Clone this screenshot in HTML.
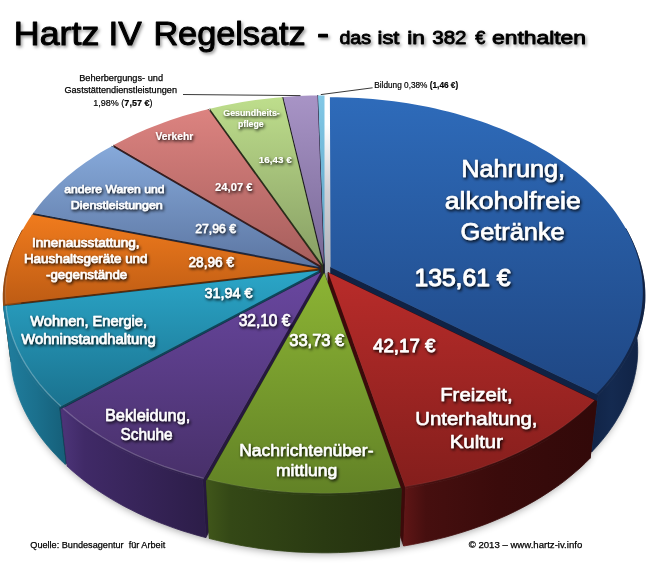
<!DOCTYPE html>
<html lang="de"><head><meta charset="utf-8"><title>Hartz IV Regelsatz</title>
<style>html,body{margin:0;padding:0;background:#fff;}body{width:650px;height:564px;overflow:hidden;font-family:"Liberation Sans",sans-serif;}svg{display:block;}</style>
</head><body>
<svg width="650" height="564" viewBox="0 0 650 564" font-family="'Liberation Sans', sans-serif">
<defs>
<filter id="blur6" x="-20%" y="-20%" width="140%" height="140%"><feGaussianBlur stdDeviation="4.5"/></filter>
<filter id="ts" filterUnits="userSpaceOnUse" x="0" y="0" width="650" height="70"><feDropShadow dx="1.6" dy="2" stdDeviation="1.5" flood-color="#000" flood-opacity="0.38"/></filter>
<filter id="ls" filterUnits="userSpaceOnUse" x="0" y="90" width="650" height="420"><feDropShadow dx="1.2" dy="1.6" stdDeviation="1.4" flood-color="#000" flood-opacity="1"/></filter>
<linearGradient id="gapg" x1="0" y1="0" x2="0" y2="1"><stop offset="0" stop-color="#ffffff"/><stop offset="0.18" stop-color="#ffffff"/><stop offset="0.55" stop-color="#cfd0d5"/><stop offset="1" stop-color="#aeb1b9"/></linearGradient>
<linearGradient id="w_bildung" gradientUnits="userSpaceOnUse" x1="318" y1="0" x2="325" y2="0"><stop offset="0" stop-color="#427c98"/><stop offset="1" stop-color="#305e74"/></linearGradient>
<linearGradient id="t_bildung" gradientUnits="userSpaceOnUse" x1="0" y1="95" x2="0" y2="265"><stop offset="0.00" stop-color="#82c8e6"/><stop offset="1.00" stop-color="#5aa0c3"/></linearGradient>
<linearGradient id="w_beherb" gradientUnits="userSpaceOnUse" x1="283" y1="0" x2="318" y2="0"><stop offset="0" stop-color="#5c4e76"/><stop offset="1" stop-color="#443858"/></linearGradient>
<linearGradient id="t_beherb" gradientUnits="userSpaceOnUse" x1="0" y1="95" x2="0" y2="265"><stop offset="0.00" stop-color="#a894c6"/><stop offset="1.00" stop-color="#786896"/></linearGradient>
<linearGradient id="w_gesund" gradientUnits="userSpaceOnUse" x1="210" y1="0" x2="283" y2="0"><stop offset="0" stop-color="#687c4a"/><stop offset="1" stop-color="#4c5c36"/></linearGradient>
<linearGradient id="t_gesund" gradientUnits="userSpaceOnUse" x1="0" y1="97" x2="0" y2="265"><stop offset="0.00" stop-color="#bede8c"/><stop offset="1.00" stop-color="#879e64"/></linearGradient>
<linearGradient id="w_verkehr" gradientUnits="userSpaceOnUse" x1="114" y1="0" x2="211" y2="0"><stop offset="0" stop-color="#824644"/><stop offset="1" stop-color="#603232"/></linearGradient>
<linearGradient id="t_verkehr" gradientUnits="userSpaceOnUse" x1="0" y1="109" x2="0" y2="266"><stop offset="0.00" stop-color="#dc8380"/><stop offset="1.00" stop-color="#a65e5c"/></linearGradient>
<linearGradient id="w_andere" gradientUnits="userSpaceOnUse" x1="33" y1="0" x2="116" y2="0"><stop offset="0" stop-color="#465c82"/><stop offset="1" stop-color="#324260"/></linearGradient>
<linearGradient id="t_andere" gradientUnits="userSpaceOnUse" x1="0" y1="146" x2="0" y2="267"><stop offset="0.00" stop-color="#86a9da"/><stop offset="1.00" stop-color="#5c76a2"/></linearGradient>
<linearGradient id="w_nahrung" gradientUnits="userSpaceOnUse" x1="330" y1="0" x2="643" y2="0"><stop offset="0" stop-color="#0e1e3e"/><stop offset="0.78" stop-color="#0e1e3e"/><stop offset="0.9" stop-color="#142a50"/><stop offset="1" stop-color="#102244"/></linearGradient>
<linearGradient id="t_nahrung" gradientUnits="userSpaceOnUse" x1="0" y1="97" x2="0" y2="394"><stop offset="0.00" stop-color="#2e6bba"/><stop offset="1.00" stop-color="#1f4784"/></linearGradient>
<linearGradient id="w_innen" gradientUnits="userSpaceOnUse" x1="5" y1="0" x2="38" y2="0"><stop offset="0" stop-color="#96480e"/><stop offset="1" stop-color="#6e340a"/></linearGradient>
<linearGradient id="t_innen" gradientUnits="userSpaceOnUse" x1="0" y1="215" x2="0" y2="304"><stop offset="0.00" stop-color="#f07b1d"/><stop offset="1.00" stop-color="#be5c14"/></linearGradient>
<linearGradient id="w_wohnen" gradientUnits="userSpaceOnUse" x1="6" y1="0" x2="67" y2="0"><stop offset="0" stop-color="#207e9e"/><stop offset="0.5" stop-color="#1b708d"/><stop offset="1" stop-color="#155e78"/></linearGradient>
<linearGradient id="t_wohnen" gradientUnits="userSpaceOnUse" x1="0" y1="271" x2="0" y2="406"><stop offset="0.00" stop-color="#2ba6c8"/><stop offset="1.00" stop-color="#1a728f"/></linearGradient>
<linearGradient id="w_bekl" gradientUnits="userSpaceOnUse" x1="63" y1="0" x2="207" y2="0"><stop offset="0" stop-color="#4c3478"/><stop offset="0.15" stop-color="#402a67"/><stop offset="1" stop-color="#2c1d48"/></linearGradient>
<linearGradient id="t_bekl" gradientUnits="userSpaceOnUse" x1="0" y1="272" x2="0" y2="478"><stop offset="0.00" stop-color="#6947a0"/><stop offset="1.00" stop-color="#48306a"/></linearGradient>
<linearGradient id="w_freizeit" gradientUnits="userSpaceOnUse" x1="403" y1="0" x2="594" y2="0"><stop offset="0" stop-color="#601616"/><stop offset="0.12" stop-color="#460f0f"/><stop offset="0.5" stop-color="#3a0b0b"/><stop offset="1" stop-color="#320909"/></linearGradient>
<linearGradient id="t_freizeit" gradientUnits="userSpaceOnUse" x1="0" y1="272" x2="0" y2="487"><stop offset="0.00" stop-color="#b92c2a"/><stop offset="1.00" stop-color="#841e1c"/></linearGradient>
<linearGradient id="w_nachr" gradientUnits="userSpaceOnUse" x1="207" y1="0" x2="401" y2="0"><stop offset="0" stop-color="#40561a"/><stop offset="0.12" stop-color="#344816"/><stop offset="0.6" stop-color="#2a3a12"/><stop offset="1" stop-color="#24300f"/></linearGradient>
<linearGradient id="t_nachr" gradientUnits="userSpaceOnUse" x1="0" y1="273" x2="0" y2="493"><stop offset="0.00" stop-color="#8cb434"/><stop offset="1.00" stop-color="#628226"/></linearGradient>
</defs>
<rect width="650" height="564" fill="#fff"/>
<g id="pie">
<path d="M329.8,149.9 L336.8,150.0 L343.8,150.2 L350.8,150.4 L357.8,150.8 L364.7,151.2 L371.7,151.8 L378.6,152.5 L385.6,153.3 L392.4,154.1 L399.3,155.1 L406.1,156.2 L412.9,157.4 L419.7,158.7 L426.4,160.0 L433.1,161.5 L439.7,163.1 L446.3,164.8 L452.8,166.6 L459.3,168.5 L465.7,170.5 L472.0,172.6 L478.3,174.7 L484.5,177.0 L490.6,179.4 L496.6,181.9 L502.6,184.4 L508.5,187.1 L514.3,189.9 L520.0,192.7 L525.6,195.6 L531.1,198.7 L536.5,201.8 L541.8,205.0 L547.0,208.3 L552.1,211.7 L557.0,215.2 L561.9,218.7 L566.6,222.3 L571.2,226.1 L575.7,229.9 L580.0,233.7 L584.2,237.7 L588.3,241.7 L592.2,245.8 L596.0,250.0 L599.6,254.2 L603.0,258.5 L606.4,262.9 L609.5,267.3 L612.5,271.8 L615.3,276.4 L618.0,281.0 L620.4,285.7 L622.7,290.4 L624.9,295.2 L626.8,300.0 L628.6,304.9 L630.1,309.8 L631.5,314.8 L632.7,319.7 L633.7,324.8 L634.5,329.8 L635.1,334.9 L635.4,340.0 L635.6,345.1 L635.6,350.3 L635.4,355.4 L634.9,360.6 L634.2,365.7 L633.4,370.9 L632.3,376.1 L631.0,381.3 L629.4,386.4 L627.7,391.6 L625.7,396.7 L623.5,401.8 L621.1,406.9 L618.5,411.9 L615.6,417.0 L612.5,422.0 L609.3,426.9 L605.7,431.8 L602.0,436.6 L598.1,441.4 L593.9,446.2 L589.5,450.8 L587.9,457.1 L583.3,461.7 L578.6,466.2 L573.6,470.6 L568.4,475.0 L563.0,479.3 L557.4,483.5 L551.7,487.6 L545.7,491.6 L539.6,495.5 L533.2,499.3 L526.7,502.9 L520.0,506.5 L513.2,510.0 L506.2,513.3 L499.0,516.5 L491.7,519.6 L484.2,522.5 L476.6,525.3 L468.9,528.0 L461.0,530.5 L453.0,532.9 L444.9,535.2 L436.7,537.3 L428.4,539.2 L420.0,541.0 L411.6,542.6 L403.0,544.1 L398.6,544.9 L390.2,546.2 L381.6,547.3 L373.0,548.3 L364.4,549.1 L355.7,549.8 L347.0,550.3 L338.3,550.6 L329.6,550.8 L320.9,550.8 L312.1,550.7 L303.4,550.4 L294.7,549.9 L286.0,549.3 L277.4,548.5 L268.8,547.6 L260.2,546.5 L251.8,545.2 L243.3,543.8 L235.0,542.3 L226.7,540.6 L218.5,538.7 L210.4,536.7 L206.8,535.8 L198.8,533.6 L190.9,531.3 L183.2,528.9 L175.6,526.4 L168.1,523.7 L160.7,520.8 L153.5,517.9 L146.4,514.8 L139.5,511.6 L132.7,508.3 L126.0,504.9 L119.6,501.3 L113.3,497.7 L107.1,493.9 L101.2,490.1 L95.4,486.1 L89.8,482.1 L84.4,478.0 L79.2,473.8 L74.2,469.5 L69.4,465.1 L67.3,463.2 L62.7,458.8 L58.3,454.3 L54.1,449.7 L50.1,445.2 L46.3,440.5 L42.7,435.8 L39.3,431.1 L36.1,426.3 L33.1,421.4 L30.3,416.6 L27.7,411.7 L25.4,406.8 L23.2,401.8 L21.3,396.8 L19.5,391.9 L18.0,386.9 L16.6,381.9 L15.5,376.8 L14.6,371.8 L13.8,366.8 L13.3,361.8 L13.1,359.7 L12.7,354.7 L12.6,349.7 L12.6,344.7 L12.9,339.8 L13.3,334.8 L14.0,329.9 L14.8,325.1 L15.8,320.2 L17.0,315.4 L18.4,310.6 L19.9,305.8 L21.6,301.1 L23.5,296.5 L25.6,291.8 L27.8,287.3 L30.2,282.7 L32.8,278.2 L35.5,273.8 L38.4,269.5 L39.5,267.7 L42.6,263.4 L45.8,259.0 L49.2,254.8 L52.8,250.6 L56.4,246.5 L60.3,242.4 L64.2,238.4 L68.3,234.5 L72.6,230.7 L76.9,226.9 L81.4,223.2 L86.0,219.6 L90.8,216.1 L95.6,212.7 L100.6,209.3 L105.7,206.0 L110.8,202.8 L116.1,199.7 L118.0,198.6 L123.2,195.7 L128.5,192.9 L133.9,190.1 L139.3,187.4 L144.9,184.8 L150.5,182.3 L156.2,179.9 L162.0,177.6 L167.9,175.3 L173.8,173.2 L179.7,171.1 L185.8,169.1 L191.9,167.2 L198.0,165.4 L204.2,163.7 L210.5,162.1 L212.3,161.6 L218.5,160.1 L224.8,158.7 L231.2,157.3 L237.6,156.1 L244.0,154.9 L250.4,153.9 L256.9,152.9 L263.4,152.0 L269.9,151.2 L276.5,150.5 L283.0,149.9 L284.2,149.8 L290.8,149.3 L297.5,148.9 L304.2,148.5 L310.9,148.3 L317.6,148.2 L318.1,148.1 L321.3,148.1 L324.5,148.1Z" fill="#000" opacity="0.40" filter="url(#blur6)" transform="translate(0,3)"/>
<rect x="320.6" y="92" width="12" height="181.0" fill="url(#gapg)"/>
<path d="M324.5,264.9 L317.9,95.4 L318.1,148.1 L324.5,320.2Z" fill="#1e3c5a" stroke="#1e3c5a" stroke-width="0.7" stroke-linejoin="round"/>
<path d="M324.5,264.9 L317.9,95.4 L321.2,95.4 L324.5,95.4Z" fill="url(#t_bildung)"/>
<path d="M324.0,264.9 L283.3,97.1 L284.2,149.8 L324.0,320.3Z" fill="#1c1628" stroke="#1c1628" stroke-width="0.7" stroke-linejoin="round"/>
<path d="M324.0,264.9 L317.5,95.5 L317.6,148.2 L324.0,320.3Z" fill="#1c1628" stroke="#1c1628" stroke-width="0.7" stroke-linejoin="round"/>
<path d="M324.0,264.9 L283.3,97.1 L290.1,96.6 L297.0,96.1 L303.8,95.8 L310.6,95.6 L317.5,95.5Z" fill="url(#t_beherb)"/>
<path d="M322.7,265.1 L210.0,108.7 L212.3,161.6 L322.8,320.4Z" fill="#28321a" stroke="#28321a" stroke-width="0.7" stroke-linejoin="round"/>
<path d="M322.7,265.1 L282.2,97.2 L283.0,149.9 L322.8,320.4Z" fill="#28321a" stroke="#28321a" stroke-width="0.7" stroke-linejoin="round"/>
<path d="M322.7,265.1 L210.0,108.7 L216.4,107.2 L222.8,105.8 L229.3,104.5 L235.8,103.2 L242.3,102.1 L248.9,101.1 L255.5,100.1 L262.1,99.2 L268.8,98.5 L275.5,97.8 L282.2,97.2Z" fill="url(#t_gesund)"/>
<path d="M320.8,265.7 L113.7,145.1 L118.0,198.6 L320.8,321.0Z" fill="#3c1c1c" stroke="#3c1c1c" stroke-width="0.7" stroke-linejoin="round"/>
<path d="M320.8,265.7 L208.2,109.2 L210.5,162.1 L320.8,321.0Z" fill="#3c1c1c" stroke="#3c1c1c" stroke-width="0.7" stroke-linejoin="round"/>
<path d="M320.8,265.7 L113.7,145.1 L119.0,142.2 L124.4,139.4 L129.9,136.7 L135.5,134.0 L141.2,131.5 L146.9,129.0 L152.7,126.7 L158.7,124.4 L164.6,122.2 L170.7,120.0 L176.8,118.0 L182.9,116.1 L189.2,114.2 L195.5,112.4 L201.8,110.8 L208.2,109.2Z" fill="url(#t_verkehr)"/>
<path d="M318.9,266.9 L33.3,213.1 L39.5,267.7 L319.0,322.3Z" fill="#1e283e" stroke="#1e283e" stroke-width="0.7" stroke-linejoin="round"/>
<path d="M318.9,266.9 L111.8,146.2 L116.1,199.7 L319.0,322.3Z" fill="#1e283e" stroke="#1e283e" stroke-width="0.7" stroke-linejoin="round"/>
<path d="M318.9,266.9 L33.3,213.1 L36.4,208.8 L39.7,204.5 L43.2,200.3 L46.9,196.2 L50.6,192.2 L54.6,188.2 L58.6,184.2 L62.8,180.4 L67.2,176.6 L71.6,172.9 L76.2,169.3 L81.0,165.7 L85.8,162.3 L90.8,158.9 L95.9,155.6 L101.0,152.3 L106.3,149.2 L111.8,146.2Z" fill="url(#t_andere)"/>
<path d="M330.6,267.2 L598.2,395.1 L591.7,451.9 L330.4,322.6Z" fill="#102244" stroke="#102244" stroke-width="0.7" stroke-linejoin="round"/>
<path d="M625.7,228.5 L628.2,233.0 L630.5,237.6 L632.7,242.3 L634.7,247.0 L636.6,251.7 L638.2,256.5 L639.8,261.4 L641.1,266.2 L642.3,271.2 L643.2,276.1 L644.0,281.1 L644.5,286.1 L644.8,291.1 L644.9,296.2 L644.8,301.3 L644.4,306.4 L643.7,311.4 L642.8,316.5 L641.7,321.6 L640.3,326.7 L638.8,331.7 L637.0,336.8 L635.0,341.8 L632.7,346.9 L630.3,351.9 L627.6,356.8 L624.7,361.8 L621.6,366.7 L618.2,371.5 L614.7,376.4 L610.9,381.1 L606.9,385.8 L602.7,390.5 L598.2,395.1 L591.7,451.9 L596.0,447.3 L600.1,442.6 L604.1,437.8 L607.8,433.0 L611.3,428.1 L614.6,423.2 L617.6,418.2 L620.5,413.3 L623.1,408.2 L625.5,403.2 L627.7,398.1 L629.7,393.0 L631.5,387.9 L633.1,382.8 L634.4,377.6 L635.5,372.5 L636.4,367.4 L637.1,362.2 L637.5,357.1 L637.7,351.9 L637.6,346.8 L637.3,341.7 L636.8,336.6 L636.1,331.6 L635.2,326.6 L634.1,321.6 L632.8,316.7 L631.3,311.8 L629.7,306.9 L627.9,302.1 L625.9,297.3 L623.8,292.6 L621.6,287.9 L619.2,283.3Z" fill="url(#w_nahrung)" stroke="url(#w_nahrung)" stroke-width="0.8" stroke-linejoin="round"/>
<path d="M624.0,228.7 L626.4,233.2 L628.6,237.8 L630.7,242.5 L632.6,247.1 L634.3,251.9 L635.8,256.6 L637.1,261.4 L638.2,266.3 L639.1,271.1 L639.9,276.0 L640.4,280.9 L640.7,285.9 L640.9,290.8 L640.8,295.8 L640.5,300.8 L640.0,305.8 L639.3,310.8 L638.4,315.8 L637.3,320.8 L635.9,325.8 L634.4,330.8 L632.6,335.8 L630.6,340.8 L628.4,345.7 L626.0,350.6 L623.3,355.5 L620.4,360.4 L617.4,365.2 L614.0,370.0 L610.5,374.8 L606.8,379.4 L602.8,384.1 L598.7,388.7 L594.3,393.2 L598.2,395.1 L602.7,390.5 L606.9,385.8 L610.9,381.1 L614.7,376.4 L618.2,371.5 L621.6,366.7 L624.7,361.8 L627.6,356.8 L630.3,351.9 L632.7,346.9 L635.0,341.8 L637.0,336.8 L638.8,331.7 L640.3,326.7 L641.7,321.6 L642.8,316.5 L643.7,311.4 L644.4,306.4 L644.8,301.3 L644.9,296.2 L644.8,291.1 L644.5,286.1 L644.0,281.1 L643.2,276.1 L642.3,271.2 L641.1,266.2 L639.8,261.4 L638.2,256.5 L636.6,251.7 L634.7,247.0 L632.7,242.3 L630.5,237.6 L628.2,233.0 L625.7,228.5Z" fill="url(#w_nahrung)" stroke="url(#w_nahrung)" stroke-width="0.5" stroke-linejoin="round"/>
<path d="M330.6,267.2 L329.9,97.2 L337.0,97.3 L344.2,97.4 L351.3,97.7 L358.4,98.0 L365.6,98.5 L372.7,99.0 L379.7,99.7 L386.8,100.5 L393.8,101.3 L400.8,102.3 L407.8,103.3 L414.7,104.5 L421.6,105.8 L428.5,107.1 L435.3,108.6 L442.1,110.2 L448.8,111.8 L455.4,113.6 L462.0,115.4 L468.5,117.4 L475.0,119.4 L481.4,121.6 L487.8,123.8 L494.0,126.2 L500.2,128.6 L506.3,131.1 L512.3,133.7 L518.2,136.4 L524.0,139.2 L529.8,142.1 L535.4,145.1 L540.9,148.2 L546.4,151.3 L551.7,154.6 L556.9,157.9 L561.9,161.3 L566.9,164.8 L571.7,168.4 L576.5,172.1 L581.0,175.8 L585.5,179.6 L589.8,183.5 L594.0,187.5 L598.0,191.5 L601.8,195.6 L605.6,199.8 L609.1,204.0 L612.5,208.3 L615.8,212.7 L618.8,217.2 L621.7,221.7 L624.5,226.2 L627.0,230.8 L629.4,235.5 L631.6,240.2 L633.6,244.9 L635.4,249.8 L637.0,254.6 L638.5,259.5 L639.7,264.4 L640.7,269.4 L641.6,274.3 L642.2,279.4 L642.6,284.4 L642.8,289.5 L642.8,294.5 L642.6,299.6 L642.1,304.7 L641.5,309.8 L640.6,315.0 L639.5,320.1 L638.2,325.2 L636.7,330.3 L634.9,335.4 L632.9,340.4 L630.7,345.5 L628.2,350.5 L625.5,355.5 L622.6,360.5 L619.5,365.4 L616.2,370.3 L612.6,375.2 L608.8,380.0 L604.8,384.7 L600.5,389.4 L596.0,394.0Z" fill="url(#t_nahrung)"/>
<path d="M318.0,268.8 L3.5,304.1 L10.8,360.0 L318.1,324.2Z" fill="#5a2a08" stroke="#5a2a08" stroke-width="0.7" stroke-linejoin="round"/>
<path d="M318.0,268.8 L32.1,214.8 L38.4,269.5 L318.1,324.2Z" fill="#5a2a08" stroke="#5a2a08" stroke-width="0.7" stroke-linejoin="round"/>
<path d="M3.5,304.1 L3.3,299.0 L3.3,293.8 L3.6,288.7 L4.1,283.6 L4.8,278.5 L5.8,273.4 L6.9,268.4 L8.3,263.5 L9.8,258.5 L11.5,253.7 L13.4,248.8 L15.5,244.0 L17.7,239.3 L20.0,234.6 L22.5,229.9 L29.1,284.8 L26.7,289.5 L24.4,294.3 L22.2,299.1 L20.3,303.9 L18.4,308.9 L16.8,313.8 L15.3,318.8 L14.0,323.8 L12.9,328.9 L12.0,334.0 L11.3,339.1 L10.8,344.3 L10.6,349.5 L10.6,354.7 L10.8,360.0Z" fill="url(#w_innen)" stroke="url(#w_innen)" stroke-width="0.8" stroke-linejoin="round"/>
<path d="M7.8,303.6 L7.4,298.6 L7.3,293.5 L7.4,288.4 L7.7,283.4 L8.2,278.4 L9.0,273.4 L9.9,268.4 L11.0,263.5 L12.3,258.6 L13.8,253.8 L15.6,249.0 L17.5,244.2 L19.6,239.5 L21.8,234.8 L24.3,230.2 L22.5,229.9 L20.0,234.6 L17.7,239.3 L15.5,244.0 L13.4,248.8 L11.5,253.7 L9.8,258.5 L8.3,263.5 L6.9,268.4 L5.8,273.4 L4.8,278.5 L4.1,283.6 L3.6,288.7 L3.3,293.8 L3.3,299.0 L3.5,304.1Z" fill="url(#w_innen)" stroke="url(#w_innen)" stroke-width="0.5" stroke-linejoin="round"/>
<path d="M318.0,268.8 L5.8,303.9 L5.5,298.9 L5.4,294.0 L5.4,289.1 L5.7,284.2 L6.2,279.3 L6.9,274.5 L7.7,269.6 L8.8,264.9 L10.0,260.1 L11.4,255.4 L13.0,250.7 L14.8,246.0 L16.8,241.4 L18.9,236.9 L21.2,232.4 L23.7,227.9 L26.3,223.5 L29.1,219.1 L32.1,214.8Z" fill="url(#t_innen)"/>
<path d="M5.8,303.9 L5.5,299.1 L5.4,294.3 L5.4,289.6 L5.7,284.9 L6.1,280.2 L6.7,275.5" fill="none" stroke="#fff" stroke-opacity="0.15" stroke-width="1.3"/>
<path d="M318.6,270.8 L58.7,407.4 L65.2,464.3 L318.7,326.2Z" fill="#0e465a" stroke="#0e465a" stroke-width="0.7" stroke-linejoin="round"/>
<path d="M318.6,270.8 L3.7,306.2 L11.0,362.1 L318.7,326.2Z" fill="#0e465a" stroke="#0e465a" stroke-width="0.7" stroke-linejoin="round"/>
<path d="M58.7,407.4 L54.0,403.0 L49.5,398.5 L45.2,394.0 L41.0,389.4 L37.1,384.7 L33.4,380.0 L30.0,375.3 L26.7,370.5 L23.6,365.7 L20.8,360.8 L18.2,356.0 L15.8,351.0 L13.6,346.1 L11.6,341.2 L9.8,336.2 L8.2,331.2 L6.9,326.2 L5.8,321.2 L4.8,316.2 L4.1,311.2 L3.7,306.2 L11.0,362.1 L11.5,367.1 L12.2,372.2 L13.1,377.2 L14.2,382.3 L15.6,387.3 L17.1,392.4 L18.9,397.4 L20.8,402.4 L23.0,407.4 L25.4,412.4 L28.0,417.3 L30.8,422.2 L33.8,427.1 L37.0,431.9 L40.4,436.7 L44.0,441.4 L47.8,446.1 L51.9,450.8 L56.1,455.3 L60.5,459.9 L65.2,464.3Z" fill="url(#w_wohnen)" stroke="url(#w_wohnen)" stroke-width="0.8" stroke-linejoin="round"/>
<path d="M62.6,405.4 L57.9,401.0 L53.5,396.6 L49.2,392.2 L45.1,387.6 L41.3,383.1 L37.6,378.4 L34.2,373.8 L31.0,369.1 L27.9,364.3 L25.1,359.5 L22.5,354.7 L20.1,349.9 L17.9,345.0 L16.0,340.1 L14.2,335.2 L12.7,330.3 L11.3,325.4 L10.2,320.5 L9.2,315.6 L8.5,310.6 L8.0,305.7 L3.7,306.2 L4.1,311.2 L4.8,316.2 L5.8,321.2 L6.9,326.2 L8.2,331.2 L9.8,336.2 L11.6,341.2 L13.6,346.1 L15.8,351.0 L18.2,356.0 L20.8,360.8 L23.6,365.7 L26.7,370.5 L30.0,375.3 L33.4,380.0 L37.1,384.7 L41.0,389.4 L45.2,394.0 L49.5,398.5 L54.0,403.0 L58.7,407.4Z" fill="url(#w_wohnen)" stroke="url(#w_wohnen)" stroke-width="0.5" stroke-linejoin="round"/>
<path d="M318.6,270.8 L60.9,406.3 L56.2,401.9 L51.7,397.5 L47.4,393.0 L43.3,388.4 L39.4,383.8 L35.8,379.2 L32.3,374.5 L29.1,369.7 L26.0,364.9 L23.2,360.1 L20.6,355.3 L18.2,350.4 L16.0,345.5 L14.0,340.6 L12.3,335.7 L10.7,330.7 L9.3,325.8 L8.2,320.8 L7.3,315.9 L6.5,310.9 L6.0,306.0Z" fill="url(#t_wohnen)"/>
<path d="M60.9,406.3 L56.2,401.9 L51.7,397.5 L47.4,393.0 L43.3,388.4 L39.4,383.8 L35.8,379.2 L32.3,374.5 L29.1,369.7 L26.0,364.9 L23.2,360.1 L20.6,355.3 L18.2,350.4 L16.0,345.5 L14.0,340.6 L12.3,335.7 L10.7,330.7 L9.3,325.8 L8.2,320.8 L7.3,315.9 L6.5,310.9 L6.0,306.0" fill="none" stroke="#fff" stroke-opacity="0.28" stroke-width="1.3"/>
<path d="M320.8,272.4 L202.7,480.1 L205.8,537.6 L320.9,327.8Z" fill="#26183e" stroke="#26183e" stroke-width="0.7" stroke-linejoin="round"/>
<path d="M320.8,272.4 L60.9,409.3 L67.3,466.3 L320.9,327.8Z" fill="#26183e" stroke="#26183e" stroke-width="0.7" stroke-linejoin="round"/>
<path d="M202.7,480.1 L194.4,477.9 L186.3,475.6 L178.3,473.2 L170.4,470.6 L162.7,467.9 L155.1,465.1 L147.6,462.2 L140.3,459.1 L133.1,455.9 L126.1,452.5 L119.3,449.1 L112.6,445.6 L106.1,441.9 L99.8,438.2 L93.7,434.3 L87.7,430.4 L81.9,426.3 L76.4,422.2 L71.0,418.0 L65.8,413.7 L60.9,409.3 L67.3,466.3 L72.1,470.7 L77.2,475.0 L82.4,479.2 L87.9,483.4 L93.5,487.5 L99.3,491.4 L105.3,495.3 L111.5,499.1 L117.9,502.8 L124.4,506.4 L131.1,509.8 L137.9,513.2 L144.9,516.4 L152.0,519.5 L159.3,522.5 L166.8,525.3 L174.3,528.1 L182.0,530.7 L189.8,533.1 L197.7,535.4 L205.8,537.6Z" fill="url(#w_bekl)" stroke="url(#w_bekl)" stroke-width="0.8" stroke-linejoin="round"/>
<path d="M204.5,476.9 L196.4,474.8 L188.4,472.5 L180.5,470.1 L172.8,467.6 L165.1,464.9 L157.6,462.2 L150.3,459.2 L143.1,456.2 L136.0,453.1 L129.1,449.8 L122.4,446.4 L115.8,442.9 L109.4,439.3 L103.1,435.7 L97.1,431.9 L91.2,428.0 L85.5,424.0 L80.0,419.9 L74.7,415.8 L69.6,411.6 L64.7,407.3 L60.9,409.3 L65.8,413.7 L71.0,418.0 L76.4,422.2 L81.9,426.3 L87.7,430.4 L93.7,434.3 L99.8,438.2 L106.1,441.9 L112.6,445.6 L119.3,449.1 L126.1,452.5 L133.1,455.9 L140.3,459.1 L147.6,462.2 L155.1,465.1 L162.7,467.9 L170.4,470.6 L178.3,473.2 L186.3,475.6 L194.4,477.9 L202.7,480.1Z" fill="url(#w_bekl)" stroke="url(#w_bekl)" stroke-width="0.5" stroke-linejoin="round"/>
<path d="M320.8,272.4 L203.7,478.3 L195.5,476.2 L187.5,473.9 L179.5,471.5 L171.7,468.9 L164.0,466.3 L156.5,463.5 L149.1,460.5 L141.8,457.5 L134.7,454.3 L127.8,451.0 L121.0,447.6 L114.4,444.1 L107.9,440.5 L101.7,436.8 L95.6,432.9 L89.7,429.0 L83.9,425.0 L78.4,420.9 L73.1,416.8 L68.0,412.5 L63.0,408.2Z" fill="url(#t_bekl)"/>
<path d="M203.7,478.3 L195.5,476.2 L187.5,473.9 L179.5,471.5 L171.7,468.9 L164.0,466.3 L156.5,463.5 L149.1,460.5 L141.8,457.5 L134.7,454.3 L127.8,451.0 L121.0,447.6 L114.4,444.1 L107.9,440.5 L101.7,436.8 L95.6,432.9 L89.7,429.0 L83.9,425.0 L78.4,420.9 L73.1,416.8 L68.0,412.5 L63.0,408.2" fill="none" stroke="#fff" stroke-opacity="0.22" stroke-width="1.3"/>
<path d="M328.2,272.5 L596.6,401.3 L590.1,458.2 L328.1,327.9Z" fill="#3c0a0a" stroke="#3c0a0a" stroke-width="0.7" stroke-linejoin="round"/>
<path d="M328.2,272.5 L405.7,488.4 L403.6,546.0 L328.1,327.9Z" fill="#3c0a0a" stroke="#3c0a0a" stroke-width="0.7" stroke-linejoin="round"/>
<path d="M596.6,401.3 L591.9,405.9 L587.0,410.4 L581.9,414.9 L576.6,419.2 L571.0,423.5 L565.3,427.7 L559.3,431.8 L553.2,435.8 L546.8,439.7 L540.3,443.5 L533.6,447.2 L526.7,450.8 L519.6,454.2 L512.4,457.5 L505.0,460.8 L497.4,463.8 L489.7,466.8 L481.9,469.6 L473.9,472.3 L465.7,474.8 L457.5,477.2 L449.1,479.5 L440.6,481.6 L432.0,483.5 L423.3,485.3 L414.6,487.0 L405.7,488.4 L403.6,546.0 L412.3,544.5 L420.8,542.8 L429.3,541.0 L437.7,539.1 L446.0,537.0 L454.1,534.7 L462.2,532.3 L470.1,529.7 L477.9,527.0 L485.6,524.2 L493.1,521.2 L500.5,518.1 L507.7,514.9 L514.8,511.5 L521.7,508.0 L528.4,504.4 L535.0,500.7 L541.3,496.9 L547.5,492.9 L553.5,488.9 L559.4,484.8 L565.0,480.6 L570.4,476.2 L575.6,471.8 L580.7,467.4 L585.5,462.8 L590.1,458.2Z" fill="url(#w_freizeit)" stroke="url(#w_freizeit)" stroke-width="0.8" stroke-linejoin="round"/>
<path d="M592.7,399.4 L588.0,403.9 L583.2,408.4 L578.1,412.7 L572.8,417.0 L567.4,421.2 L561.7,425.4 L555.8,429.4 L549.8,433.3 L543.5,437.2 L537.1,440.9 L530.5,444.5 L523.7,448.0 L516.7,451.4 L509.6,454.7 L502.3,457.9 L494.8,460.9 L487.2,463.8 L479.5,466.6 L471.6,469.2 L463.6,471.7 L455.5,474.1 L447.2,476.3 L438.9,478.3 L430.4,480.2 L421.9,482.0 L413.2,483.6 L404.5,485.1 L405.7,488.4 L414.6,487.0 L423.3,485.3 L432.0,483.5 L440.6,481.6 L449.1,479.5 L457.5,477.2 L465.7,474.8 L473.9,472.3 L481.9,469.6 L489.7,466.8 L497.4,463.8 L505.0,460.8 L512.4,457.5 L519.6,454.2 L526.7,450.8 L533.6,447.2 L540.3,443.5 L546.8,439.7 L553.2,435.8 L559.3,431.8 L565.3,427.7 L571.0,423.5 L576.6,419.2 L581.9,414.9 L587.0,410.4 L591.9,405.9 L596.6,401.3Z" fill="url(#w_freizeit)" stroke="url(#w_freizeit)" stroke-width="0.5" stroke-linejoin="round"/>
<path d="M328.2,272.5 L594.4,400.2 L589.8,404.8 L584.9,409.3 L579.8,413.7 L574.5,418.0 L569.0,422.2 L563.3,426.4 L557.4,430.5 L551.3,434.4 L545.0,438.3 L538.5,442.0 L531.8,445.7 L525.0,449.2 L518.0,452.7 L510.8,456.0 L503.5,459.2 L496.0,462.2 L488.3,465.1 L480.5,467.9 L472.6,470.6 L464.5,473.1 L456.4,475.5 L448.1,477.7 L439.6,479.8 L431.1,481.7 L422.5,483.5 L413.8,485.1 L405.0,486.6Z" fill="url(#t_freizeit)"/>
<path d="M594.4,400.2 L589.8,404.8 L584.9,409.3 L579.8,413.7 L574.5,418.0 L569.0,422.2 L563.3,426.4 L557.4,430.5 L551.3,434.4 L545.0,438.3 L538.5,442.0 L531.8,445.7 L525.0,449.2 L518.0,452.7 L510.8,456.0 L503.5,459.2 L496.0,462.2 L488.3,465.1 L480.5,467.9 L472.6,470.6 L464.5,473.1 L456.4,475.5 L448.1,477.7 L439.6,479.8 L431.1,481.7 L422.5,483.5 L413.8,485.1 L405.0,486.6" fill="none" stroke="#fff" stroke-opacity="0.05" stroke-width="1.3"/>
<path d="M324.2,273.1 L401.2,489.3 L399.3,546.8 L324.2,328.6Z" fill="#2d3c12" stroke="#2d3c12" stroke-width="0.7" stroke-linejoin="round"/>
<path d="M324.2,273.1 L206.4,481.0 L209.4,538.5 L324.2,328.6Z" fill="#2d3c12" stroke="#2d3c12" stroke-width="0.7" stroke-linejoin="round"/>
<path d="M401.2,489.3 L392.5,490.5 L383.6,491.7 L374.7,492.7 L365.8,493.5 L356.8,494.2 L347.8,494.7 L338.8,495.0 L329.8,495.2 L320.7,495.2 L311.7,495.1 L302.7,494.8 L293.7,494.3 L284.7,493.7 L275.7,492.9 L266.8,491.9 L258.0,490.8 L249.2,489.6 L240.5,488.2 L231.8,486.6 L223.3,484.9 L214.8,483.0 L206.4,481.0 L209.4,538.5 L217.6,540.5 L225.9,542.4 L234.2,544.1 L242.6,545.7 L251.1,547.1 L259.7,548.4 L268.3,549.5 L277.0,550.5 L285.7,551.2 L294.5,551.9 L303.2,552.3 L312.0,552.6 L320.8,552.8 L329.6,552.8 L338.4,552.6 L347.2,552.2 L356.0,551.7 L364.7,551.1 L373.5,550.2 L382.1,549.3 L390.7,548.1 L399.3,546.8Z" fill="url(#w_nachr)" stroke="url(#w_nachr)" stroke-width="0.8" stroke-linejoin="round"/>
<path d="M400.0,485.9 L391.4,487.2 L382.7,488.3 L373.9,489.2 L365.1,490.1 L356.3,490.7 L347.5,491.2 L338.6,491.5 L329.7,491.7 L320.8,491.7 L311.9,491.6 L303.0,491.3 L294.1,490.8 L285.3,490.2 L276.5,489.5 L267.7,488.5 L259.0,487.4 L250.4,486.2 L241.8,484.8 L233.3,483.3 L224.9,481.6 L216.5,479.8 L208.3,477.8 L206.4,481.0 L214.8,483.0 L223.3,484.9 L231.8,486.6 L240.5,488.2 L249.2,489.6 L258.0,490.8 L266.8,491.9 L275.7,492.9 L284.7,493.7 L293.7,494.3 L302.7,494.8 L311.7,495.1 L320.7,495.2 L329.8,495.2 L338.8,495.0 L347.8,494.7 L356.8,494.2 L365.8,493.5 L374.7,492.7 L383.6,491.7 L392.5,490.5 L401.2,489.3Z" fill="url(#w_nachr)" stroke="url(#w_nachr)" stroke-width="0.5" stroke-linejoin="round"/>
<path d="M324.2,273.1 L400.6,487.4 L391.9,488.7 L383.1,489.8 L374.3,490.8 L365.4,491.6 L356.5,492.2 L347.6,492.7 L338.7,493.1 L329.7,493.3 L320.8,493.3 L311.8,493.1 L302.9,492.8 L293.9,492.4 L285.0,491.8 L276.2,491.0 L267.3,490.0 L258.6,489.0 L249.9,487.7 L241.2,486.3 L232.6,484.8 L224.2,483.1 L215.8,481.2 L207.5,479.2Z" fill="url(#t_nachr)"/>
<path d="M400.6,487.4 L391.9,488.7 L383.1,489.8 L374.3,490.8 L365.4,491.6 L356.5,492.2 L347.6,492.7 L338.7,493.1 L329.7,493.3 L320.8,493.3 L311.8,493.1 L302.9,492.8 L293.9,492.4 L285.0,491.8 L276.2,491.0 L267.3,490.0 L258.6,489.0 L249.9,487.7 L241.2,486.3 L232.6,484.8 L224.2,483.1 L215.8,481.2 L207.5,479.2" fill="none" stroke="#fff" stroke-opacity="0.07" stroke-width="1.3"/>
</g>
<g id="labels">
<line x1="183.0" y1="94.5" x2="300.5" y2="95.6" stroke="#222" stroke-width="0.9"/>
<line x1="320.8" y1="94.6" x2="372.6" y2="87.8" stroke="#222" stroke-width="0.9"/>
<g id="title" fill="#000" stroke="#000" stroke-linejoin="round" filter="url(#ts)">
<text><tspan x="13.85" y="44.7" font-size="34.0" textLength="85.46" lengthAdjust="spacingAndGlyphs" stroke-width="1.05">Hartz</tspan> <tspan x="108.61" y="44.7" font-size="34.0" textLength="33.12" lengthAdjust="spacingAndGlyphs" stroke-width="1.05">IV</tspan> <tspan x="153.40" y="44.7" font-size="34.0" textLength="152.23" lengthAdjust="spacingAndGlyphs" stroke-width="1.05">Regelsatz</tspan> <tspan x="317.11" y="44.7" font-size="34.0" textLength="12.07" lengthAdjust="spacingAndGlyphs" stroke-width="1.05">-</tspan> <tspan x="339.44" y="44.3" font-size="18.7" textLength="31.62" lengthAdjust="spacingAndGlyphs" stroke-width="0.9">das</tspan> <tspan x="377.62" y="44.3" font-size="18.7" textLength="21.82" lengthAdjust="spacingAndGlyphs" stroke-width="0.9">ist</tspan> <tspan x="407.21" y="44.3" font-size="18.7" textLength="17.63" lengthAdjust="spacingAndGlyphs" stroke-width="0.9">in</tspan> <tspan x="432.24" y="44.3" font-size="18.7" textLength="34.27" lengthAdjust="spacingAndGlyphs" stroke-width="0.9">382</tspan> <tspan x="475.19" y="44.3" font-size="18.7" textLength="10.02" lengthAdjust="spacingAndGlyphs" stroke-width="0.9">€</tspan> <tspan x="491.99" y="44.3" font-size="18.7" textLength="94.02" lengthAdjust="spacingAndGlyphs" stroke-width="0.9">enthalten</tspan></text>
</g>
<g id="outer-labels" fill="#000" stroke="#000" stroke-linejoin="round">
<text x="79.24" y="80.9" font-size="9.3" textLength="83.77" lengthAdjust="spacingAndGlyphs" stroke-width="0.25">Beherbergungs- und</text>
<text x="64.45" y="93.2" font-size="9.3" textLength="112.56" lengthAdjust="spacingAndGlyphs" stroke-width="0.25">Gaststättendienstleistungen</text>
<text x="30.30" y="547.7" font-size="9.6" textLength="134.90" lengthAdjust="spacingAndGlyphs" stroke-width="0.25">Quelle: Bundesagentur  für Arbeit</text>
<text x="468.65" y="547.7" font-size="9.6" textLength="113.60" lengthAdjust="spacingAndGlyphs" stroke-width="0.25">© 2013 – www.hartz-iv.info</text>
<text x="93.23" y="105.5" font-size="9.6" textLength="59.28" lengthAdjust="spacingAndGlyphs" stroke-width="0.2" xml:space="preserve">1,98% (<tspan font-weight="bold">7,57 €</tspan>)</text>
<text x="374.24" y="88.2" font-size="9.0" textLength="83.97" lengthAdjust="spacingAndGlyphs" stroke-width="0.2" xml:space="preserve">Bildung 0,38% <tspan font-weight="bold">(1,46 €)</tspan></text>
</g>
<g id="slice-labels" fill="#fff" stroke="#fff" stroke-linejoin="round" filter="url(#ls)">
<text x="461.18" y="176.8" font-size="24.6" textLength="103.94" lengthAdjust="spacingAndGlyphs" stroke-width="0.64">Nahrung,</text>
<text x="444.74" y="208.7" font-size="24.6" textLength="135.97" lengthAdjust="spacingAndGlyphs" stroke-width="0.64">alkoholfreie</text>
<text x="460.48" y="240.2" font-size="24.6" textLength="104.23" lengthAdjust="spacingAndGlyphs" stroke-width="0.64">Getränke</text>
<text x="414.48" y="286.0" font-size="24.6" textLength="96.02" lengthAdjust="spacingAndGlyphs" stroke-width="0.98">135,61 €</text>
<text x="373.00" y="351.5" font-size="19.0" textLength="62.50" lengthAdjust="spacingAndGlyphs" stroke-width="0.76">42,17 €</text>
<text x="440.20" y="400.5" font-size="19.0" textLength="72.36" lengthAdjust="spacingAndGlyphs" stroke-width="0.54">Freizeit,</text>
<text x="415.22" y="424.6" font-size="19.0" textLength="122.31" lengthAdjust="spacingAndGlyphs" stroke-width="0.54">Unterhaltung,</text>
<text x="449.72" y="448.4" font-size="19.0" textLength="53.28" lengthAdjust="spacingAndGlyphs" stroke-width="0.54">Kultur</text>
<text x="289.25" y="346.1" font-size="17.2" textLength="54.95" lengthAdjust="spacingAndGlyphs" stroke-width="0.69">33,73 €</text>
<text x="239.23" y="455.9" font-size="17.3" textLength="134.27" lengthAdjust="spacingAndGlyphs" stroke-width="0.51">Nachrichtenüber-</text>
<text x="275.97" y="475.9" font-size="17.3" textLength="61.30" lengthAdjust="spacingAndGlyphs" stroke-width="0.51">mittlung</text>
<text x="238.75" y="326.0" font-size="16.2" textLength="51.60" lengthAdjust="spacingAndGlyphs" stroke-width="0.65">32,10 €</text>
<text x="104.97" y="421.0" font-size="16.4" textLength="85.31" lengthAdjust="spacingAndGlyphs" stroke-width="0.5">Bekleidung,</text>
<text x="120.49" y="439.6" font-size="16.4" textLength="52.02" lengthAdjust="spacingAndGlyphs" stroke-width="0.5">Schuhe</text>
<text x="204.45" y="298.3" font-size="15.1" textLength="48.10" lengthAdjust="spacingAndGlyphs" stroke-width="0.6">31,94 €</text>
<text x="30.25" y="326.0" font-size="14.0" textLength="116.75" lengthAdjust="spacingAndGlyphs" stroke-width="0.6">Wohnen, Energie,</text>
<text x="21.25" y="344.0" font-size="14.0" textLength="134.50" lengthAdjust="spacingAndGlyphs" stroke-width="0.6">Wohninstandhaltung</text>
<text x="188.49" y="266.7" font-size="13.9" textLength="45.51" lengthAdjust="spacingAndGlyphs" stroke-width="0.56">28,96 €</text>
<text x="31.98" y="246.8" font-size="12.8" textLength="107.54" lengthAdjust="spacingAndGlyphs" stroke-width="0.6">Innenausstattung,</text>
<text x="23.94" y="263.0" font-size="12.8" textLength="123.56" lengthAdjust="spacingAndGlyphs" stroke-width="0.6">Haushaltsgeräte und</text>
<text x="46.05" y="279.0" font-size="12.8" textLength="81.15" lengthAdjust="spacingAndGlyphs" stroke-width="0.6">-gegenstände</text>
<text x="195.25" y="232.8" font-size="12.5" textLength="40.75" lengthAdjust="spacingAndGlyphs" stroke-width="0.5">27,96 €</text>
<text x="64.25" y="192.9" font-size="11.8" textLength="100.26" lengthAdjust="spacingAndGlyphs" stroke-width="0.6">andere Waren und</text>
<text x="70.69" y="208.8" font-size="11.8" textLength="92.12" lengthAdjust="spacingAndGlyphs" stroke-width="0.6">Dienstleistungen</text>
<text x="215.14" y="191.0" font-size="10.8" textLength="37.42" lengthAdjust="spacingAndGlyphs" font-weight="bold" stroke="none">24,07 €</text>
<text x="155.50" y="140.4" font-size="10.5" textLength="37.75" lengthAdjust="spacingAndGlyphs" font-weight="bold" stroke="none">Verkehr</text>
<text x="223.25" y="115.5" font-size="9.3" textLength="56.51" lengthAdjust="spacingAndGlyphs" font-weight="bold" stroke="none">Gesundheits-</text>
<text x="238.03" y="126.8" font-size="9.3" textLength="25.53" lengthAdjust="spacingAndGlyphs" font-weight="bold" stroke="none">pflege</text>
<text x="258.83" y="163.4" font-size="9.4" textLength="32.77" lengthAdjust="spacingAndGlyphs" font-weight="bold" stroke="none">16,43 €</text>
</g>
</g>
</svg>
</body></html>
